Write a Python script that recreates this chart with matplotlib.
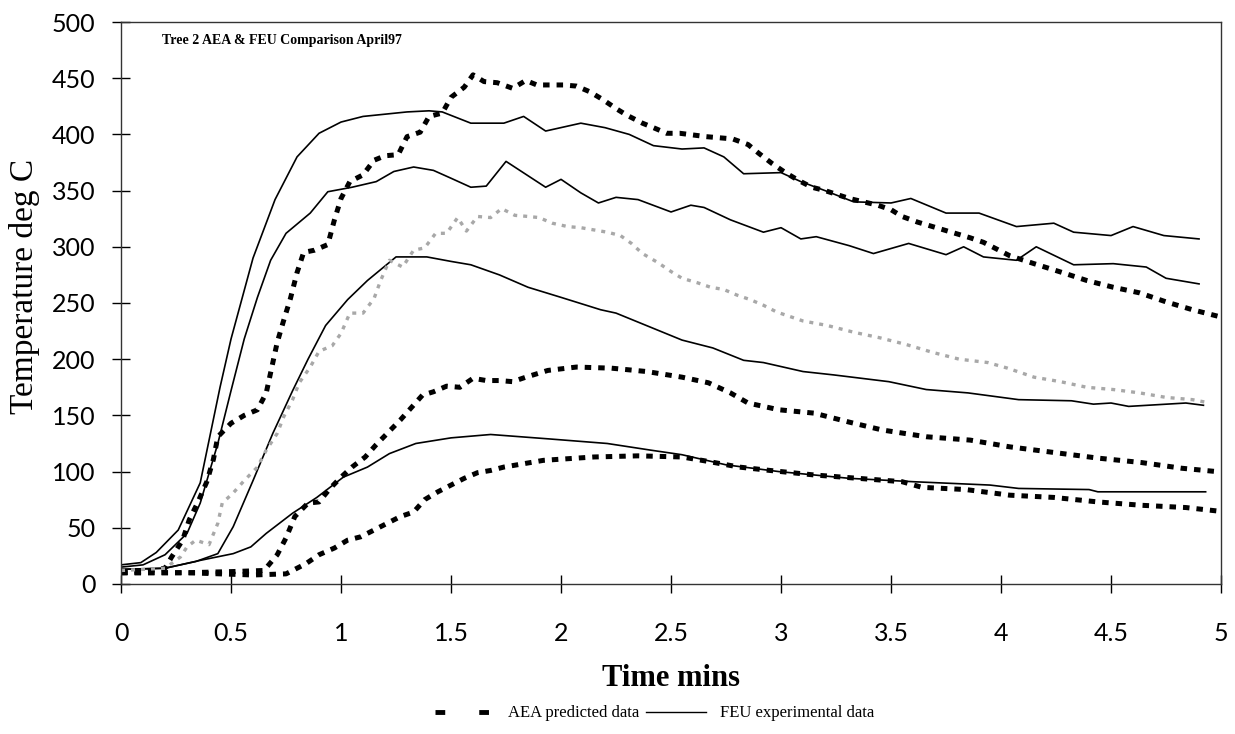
import matplotlib
matplotlib.use('Agg')
import matplotlib.pyplot as plt
from matplotlib.lines import Line2D

# FEU experimental data (solid lines), time [min] / temperature [deg C]
feu1_t = [0, 0.09, 0.16, 0.26, 0.36, 0.45, 0.5, 0.6, 0.7, 0.8, 0.9, 1.0, 1.1, 1.2, 1.3, 1.4, 1.46,
          1.59, 1.74, 1.83, 1.93, 2.09, 2.2, 2.31, 2.42, 2.55, 2.65, 2.74, 2.83, 3.0, 3.09, 3.2, 3.33,
          3.5, 3.59, 3.75, 3.9, 4.07, 4.24, 4.33, 4.5, 4.6, 4.74, 4.9]
feu1_T = [17, 19, 28, 48, 90, 175, 218, 290, 342, 380, 401, 411, 416, 418, 420, 421, 420,
          410, 410, 416, 403, 410, 406, 400, 390, 387, 388, 380, 365, 366, 358, 350, 340,
          339, 343, 330, 330, 318, 321, 313, 310, 318, 310, 307]

feu2_t = [0, 0.1, 0.2, 0.3, 0.36, 0.44, 0.5, 0.56, 0.62, 0.68, 0.75, 0.86, 0.94, 1.05, 1.16, 1.24,
          1.33, 1.42, 1.5, 1.59, 1.66, 1.75, 1.93, 2.0, 2.09, 2.17, 2.25, 2.35, 2.5, 2.59, 2.65,
          2.77, 2.92, 3.0, 3.09, 3.16, 3.31, 3.42, 3.58, 3.75, 3.83, 3.92, 4.07, 4.16, 4.33, 4.51,
          4.66, 4.75, 4.9]
feu2_T = [15, 17, 26, 45, 72, 125, 172, 218, 255, 288, 312, 330, 349, 353, 358, 367,
          371, 368, 361, 353, 354, 376, 353, 360, 348, 339, 344, 342, 331, 337, 335,
          324, 313, 317, 307, 309, 301, 294, 303, 293, 300, 291, 288, 300, 284, 285,
          282, 272, 267]

feu3_t = [0, 0.2, 0.34, 0.44, 0.51, 0.6, 0.69, 0.78, 0.85, 0.93, 1.03, 1.12, 1.25, 1.39, 1.5, 1.59,
          1.72, 1.85, 2.0, 2.18, 2.25, 2.4, 2.55, 2.69, 2.83, 2.92, 3.1, 3.24, 3.49, 3.66, 3.85,
          4.08, 4.32, 4.42, 4.5, 4.58, 4.84, 4.92]
feu3_T = [13, 14, 20, 27, 51, 92, 134, 172, 200, 230, 253, 270, 291, 291, 287, 284,
          275, 264, 255, 244, 241, 229, 217, 210, 199, 197, 189, 186, 180, 173, 170,
          164, 163, 160, 161, 158, 161, 159]

feu4_t = [0, 0.2, 0.36, 0.51, 0.59, 0.66, 0.78, 0.89, 1.01, 1.12, 1.22, 1.34, 1.5, 1.68, 1.95, 2.21,
          2.41, 2.55, 2.75, 2.99, 3.31, 3.6, 3.95, 4.08, 4.4, 4.44, 4.93]
feu4_T = [13, 14, 21, 27, 33, 45, 63, 77, 95, 104, 116, 125, 130, 133, 129, 125,
          119, 115, 106, 100, 94, 91, 88, 85, 84, 82, 82]

# AEA predicted data (dotted lines)
aea1_t = [0, 0.1, 0.2, 0.23, 0.28, 0.31, 0.35, 0.39, 0.42, 0.44, 0.5, 0.56, 0.62, 0.66, 0.69, 0.71,
          0.74, 0.77, 0.8, 0.83, 0.88, 0.94, 0.97, 1.0, 1.04, 1.1, 1.15, 1.2, 1.26, 1.3, 1.36, 1.4,
          1.46, 1.5, 1.56, 1.6, 1.65, 1.71, 1.78, 1.84, 1.89, 2.01, 2.07, 2.13, 2.19, 2.25, 2.3,
          2.37, 2.42, 2.48, 2.54, 2.66, 2.78, 2.85, 2.9, 2.96, 3.02, 3.08, 3.14, 3.2, 3.31, 3.44,
          3.5, 3.55, 3.62, 3.74, 3.86, 3.92, 3.98, 4.04, 4.15, 4.28, 4.39, 4.51, 4.63, 4.75,
          4.87, 4.99]
aea1_T = [10, 11, 14, 24, 39, 57, 73, 91, 111, 131, 143, 150, 155, 170, 197, 215,
          235, 254, 277, 295, 297, 302, 324, 343, 358, 364, 377, 381, 382, 398, 402, 416,
          419, 433, 442, 453, 447, 446, 441, 448, 444, 444, 443, 438, 431, 423, 417,
          410, 406, 401, 401, 398, 396, 391, 383, 374, 366, 359, 353, 350, 343, 337,
          333, 327, 322, 315, 308, 304, 298, 292, 285, 277, 270, 264, 259, 251,
          244, 238]

aea2_t = [0, 0.3, 0.5, 0.65, 0.71, 0.75, 0.79, 0.85, 0.9, 0.95, 1.0, 1.05, 1.11, 1.16, 1.21, 1.27,
          1.32, 1.37, 1.42, 1.48, 1.54, 1.6, 1.66, 1.72, 1.78, 1.84, 1.94, 2.07, 2.23, 2.39, 2.55,
          2.67, 2.77, 2.85, 2.99, 3.15, 3.31, 3.46, 3.66, 3.86, 4.04, 4.24, 4.44, 4.64, 4.82, 4.98]
aea2_T = [10, 10, 11, 12, 26, 41, 60, 72, 73, 85, 95, 104, 113, 124, 134, 146,
          157, 168, 171, 176, 175, 183, 181, 181, 180, 184, 190, 193, 192, 189, 184,
          179, 170, 161, 155, 152, 144, 137, 131, 128, 122, 117, 112, 108, 103, 100]

aea3_t = [0, 0.3, 0.6, 0.75, 0.78, 0.84, 0.9, 0.97, 1.03, 1.09, 1.15, 1.21, 1.27, 1.33, 1.38, 1.44,
          1.5, 1.56, 1.62, 1.68, 1.74, 1.8, 1.86, 1.92, 2.15, 2.35, 2.55, 2.67, 2.81, 2.95, 3.15,
          3.35, 3.55, 3.64, 3.84, 4.04, 4.24, 4.44, 4.64, 4.84, 4.98]
aea3_T = [10, 10, 8, 9, 12, 18, 26, 32, 39, 42, 48, 54, 60, 64, 75, 82,
          88, 94, 99, 101, 104, 106, 108, 110, 113, 114, 113, 109, 104, 101, 97,
          94, 91, 86, 84, 79, 77, 73, 70, 68, 65]

aea4_t = [0, 0.2, 0.27, 0.3, 0.34, 0.4, 0.44, 0.46, 0.51, 0.56, 0.62, 0.66, 0.71, 0.74, 0.78, 0.81,
          0.86, 0.9, 0.96, 1.0, 1.04, 1.1, 1.15, 1.18, 1.22, 1.28, 1.33, 1.38, 1.43, 1.48, 1.53,
          1.57, 1.62, 1.68, 1.73, 1.79, 1.85, 1.9, 1.96, 2.03, 2.09, 2.15, 2.21, 2.27, 2.32, 2.37,
          2.44, 2.5, 2.55, 2.62, 2.68, 2.74, 2.8, 2.86, 2.92, 2.98, 3.04, 3.1, 3.21, 3.33, 3.45,
          3.57, 3.69, 3.81, 3.94, 4.03, 4.15, 4.27, 4.39, 4.51, 4.63, 4.75, 4.87, 4.95]
aea4_T = [12, 14, 24, 33, 39, 35, 54, 72, 81, 92, 104, 119, 134, 149, 164, 179,
          193, 207, 212, 223, 241, 241, 254, 270, 288, 282, 297, 299, 312, 312, 326,
          314, 327, 326, 334, 328, 327, 326, 321, 318, 317, 315, 313, 310, 303, 294,
          286, 278, 272, 268, 264, 262, 257, 253, 248, 242, 238, 234, 230, 224, 219,
          213, 206, 200, 197, 192, 184, 180, 175, 173, 170, 166, 164, 161]

xticks = [0, 0.5, 1, 1.5, 2, 2.5, 3, 3.5, 4, 4.5, 5]
xtick_labels = ['0', '0.5', '1', '1.5', '2', '2.5', '3', '3.5', '4', '4.5', '5']
yticks = list(range(0, 501, 50))

fig = plt.figure(figsize=(12.35, 7.34), dpi=100)
ax = fig.add_axes([0.098, 0.2044, 0.8907, 0.7656])

dot = (0, (1.3, 1.4))
for t, T in [(feu1_t, feu1_T), (feu2_t, feu2_T), (feu3_t, feu3_T), (feu4_t, feu4_T)]:
    ax.plot(t, T, color='black', lw=1.2)
for t, T in [(aea1_t, aea1_T), (aea2_t, aea2_T), (aea3_t, aea3_T)]:
    ax.plot(t, T, color='black', lw=3.6, ls=dot)
ax.plot(aea4_t, aea4_T, color='#a8a8a8', lw=2.4, ls=(0, (1.2, 1.8)))

ax.set_xlim(0, 5)
ax.set_ylim(0, 500)
ax.set_xticks(xticks)
ax.set_xticklabels(xtick_labels)
ax.set_yticks(yticks)
ax.tick_params(axis='both', direction='inout', length=13, width=1, labelsize=18)
ax.tick_params(axis='x', pad=21)
ax.tick_params(axis='y', pad=12)
for lbl in ax.get_xticklabels() + ax.get_yticklabels():
    lbl.set_fontfamily('Lato')
for s in ax.spines.values():
    s.set_linewidth(1.0)
    s.set_color('#333333')

ax.set_xlabel('Time mins', fontsize=22, fontweight='bold', family='Liberation Serif')
ax.set_ylabel('Temperature deg C', fontsize=24, family='Liberation Serif')
ax.xaxis.set_label_coords(0.5, -0.142)
ax.yaxis.set_label_coords(-0.074, 0.53)

ax.text(0.037, 0.968, 'Tree 2 AEA & FEU Comparison April97', transform=ax.transAxes,
        fontsize=10, fontweight='bold', family='Liberation Serif', va='center', ha='left')

handles = [Line2D([], [], color='black', lw=3.5, ls=(0, (2, 7))),
           Line2D([], [], color='black', lw=1.0)]
fig.legend(handles, ['AEA predicted data', 'FEU experimental data'], loc='center',
           bbox_to_anchor=(0.53, 0.028), ncol=2, frameon=False, handlelength=3.6,
           columnspacing=0.4, handletextpad=0.8, prop={'family': 'Liberation Serif', 'size': 12})

fig.savefig('out.png', dpi=100)
